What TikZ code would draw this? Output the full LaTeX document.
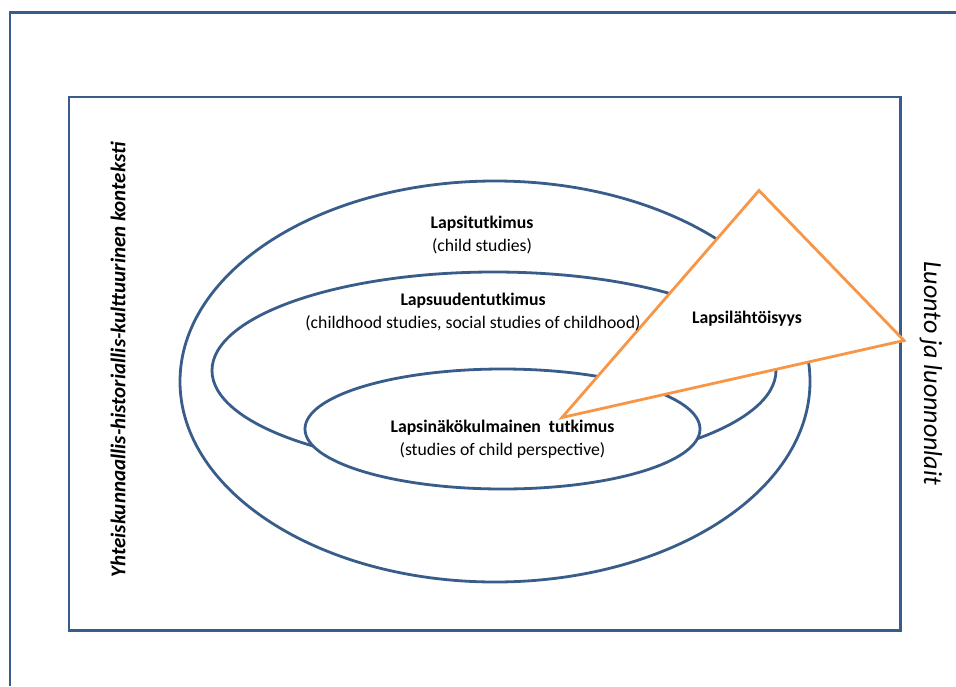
\documentclass[tikz,border=0pt]{standalone}
\usepackage{fontspec}
\setmainfont{Carlito}
\usepackage{tikz}

\definecolor{kehys}{RGB}{56,93,138}
\definecolor{oranssi}{RGB}{247,150,70}

\begin{document}
\begin{tikzpicture}[x=1pt,y=-1pt,
  kehysviiva/.style={draw=kehys,line width=2.8pt},
  soikio/.style={draw=kehys,line width=2.8pt,fill=white},
  otsikko/.style={font=\fontsize{17.7}{20}\selectfont\bfseries},
  selite/.style={font=\fontsize{17.7}{20}\selectfont}]
    \useasboundingbox (0,0) rectangle (956,686);
    % ulkokehys
    \draw[kehysviiva] (10,686) -- (10,12.5) -- (956,12.5);
    % sisäkehys
    \draw[kehysviiva] (69,97) rectangle (900.5,630.5);
    % soikiot
    \draw[soikio] (495,381.5) ellipse [x radius=315, y radius=200.5];
    \draw[soikio] (494,370.5) ellipse [x radius=282, y radius=98.5];
    \draw[soikio] (502.5,429) ellipse [x radius=197.5, y radius=60];
    % kolmio
    \draw[draw=oranssi,line width=2.8pt,fill=white,line join=miter]
      (759,190.5) -- (904,340.5) -- (562,417.5) -- cycle;

    % tekstit
    \node[otsikko] (lapsi) at (482,224) {Lapsitutkimus};
    \node[selite] (lapsiEn) at (482,246) {(child studies)};
    \node[otsikko] (lapsuus) at (473,301) {Lapsuudentutkimus};
    \node[selite] (lapsuusEn) at (473,323)
      {(childhood studies, social studies of childhood)};
    \node[otsikko] (nakokulma) at (502.5,428)
      {Lapsinäkökulmainen\ \ tutkimus};
    \node[selite] (nakokulmaEn) at (502.5,450)
      {(studies of child perspective)};
    \node[otsikko] (lahtoisyys) at (747,319) {Lapsilähtöisyys};

    % reunatekstit
    \node[rotate=90,font=\fontsize{21}{24}\selectfont\bfseries\itshape]
      (konteksti) at (118,360)
      {Yhteiskunnaallis-historiallis-kulttuurinen konteksti};
    \node[rotate=-90,font=\fontsize{26}{30}\selectfont\itshape]
      (luonto) at (931,373) {Luonto ja luonnonlait};
\end{tikzpicture}
\end{document}
